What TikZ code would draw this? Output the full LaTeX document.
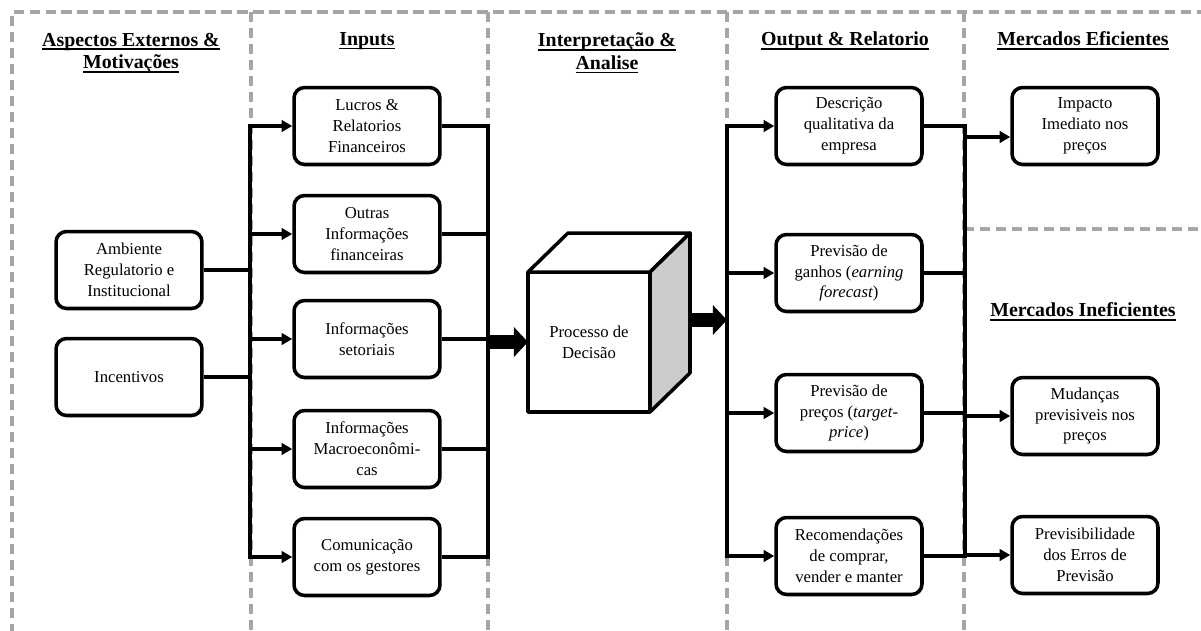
\documentclass[tikz,border=0pt]{standalone}
\usepackage{fontspec}
\setmainfont{Liberation Serif}
\usetikzlibrary{arrows.meta,shadows}

% underlined column heading with a fixed rule just below the baseline
\newcommand{\hdr}[1]{\setbox0\hbox{#1}\rlap{\rule[-2.3pt]{\wd0}{1pt}}\box0}

\begin{document}
\begin{tikzpicture}[x=0.02cm,y=-0.02cm,
  frame/.style={draw=black!35, line width=1.9pt, dash pattern=on 5.9pt off 3.2pt},
  box/.style={draw=black, line width=2pt, rounded corners=6pt, fill=white,
    align=center, minimum width=2.92cm, minimum height=1.54cm, inner sep=2pt,
    font=\fontsize{9.5}{11.9}\selectfont,
    drop shadow={opacity=0.18, shadow xshift=0.9pt, shadow yshift=-0.9pt}},
  hd/.style={align=center, inner sep=0pt, font=\fontsize{11.3}{13}\selectfont\bfseries},
  cubeface/.style={draw=black, line width=2pt, line join=round},
  wire/.style={line width=2pt, line join=miter},
  arr/.style={wire, -{Triangle[length=6pt,width=6.5pt]}},
  arrboth/.style={wire, {Triangle[length=6pt,width=6.5pt]}-{Triangle[length=6pt,width=6.5pt]}},
  fat/.style={line width=8pt, -{Triangle[length=8pt,width=16.5pt]}}
]
\useasboundingbox (0,0) rectangle (1201,630);

% dashed column frame
\draw[frame] (12,650) -- (12,12) -- (1215,12);
\foreach \x in {251,488,727,964} \draw[frame] (\x,12) -- (\x,650);
\draw[frame] (964,229) -- (1215,229);

% column headings
\node[hd] (h1) at (131,53) {\hdr{Aspectos Externos \&}\\\hdr{Motivações}};
\node[hd] (h2) at (367,41) {\hdr{Inputs}};
\node[hd] (h3) at (607,53) {\hdr{Interpretação \&}\\\hdr{Analise}};
\node[hd] (h4) at (845,41) {\hdr{Output \& Relatorio}};
\node[hd] (h5) at (1083,41) {\hdr{Mercados Eficientes}};
\node[hd] (h6) at (1083,312) {\hdr{Mercados Ineficientes}};

% external aspects
\node[box] (amb) at (129,270) {Ambiente\\Regulatorio e\\Institucional};
\node[box] (inc) at (129,377) {Incentivos};

% inputs
\node[box] (luc) at (367,126) {Lucros \&\\Relatorios\\Financeiros};
\node[box] (out) at (367,234) {Outras\\Informações\\financeiras};
\node[box] (set) at (367,339) {Informações\\setoriais};
\node[box] (mac) at (367,449) {Informações\\Macroeconômi-\\cas};
\node[box] (com) at (367,557) {Comunicação\\com os gestores};

% decision cube
\node[cubeface, fill=white, minimum width=2.44cm, minimum height=2.8cm, outer sep=0pt,
  align=center, font=\fontsize{9.5}{11.9}\selectfont] (dec) at (589,342) {Processo de\\Decisão};
\draw[cubeface, fill=white] (dec.north west) -- ++(40,-39) -- ++(122,0) -- (dec.north east) -- cycle;
\draw[cubeface, fill=black!20] (dec.north east) -- ++(40,-39) -- ++(0,140) -- (dec.south east) -- cycle;

% outputs
\node[box] (desc) at (849,126) {Descrição\\qualitativa da\\empresa};
\node[box] (gan) at (849,273) {Previsão de\\ganhos (\textit{earning}\\\textit{forecast})};
\node[box] (prec) at (849,413) {Previsão de\\preços (\textit{target-}\\\textit{price})};
\node[box] (rec) at (849,556) {Recomendações\\de comprar,\\vender e manter};

% markets
\node[box] (imp) at (1085,126) {Impacto\\Imediato nos\\preços};
\node[box] (mud) at (1085,416) {Mudanças\\previsiveis nos\\preços};
\node[box] (prv) at (1085,555) {Previsibilidade\\dos Erros de\\Previsão};

% bus columns
\coordinate (lbus) at (250,0);
\coordinate (ibus) at (488,0);
\coordinate (obus) at (727,0);
\coordinate (rbus) at (965,0);
\coordinate (cubeout) at (690,320);
\coordinate (impin) at ([yshift=-0.22cm]imp.west);

% external aspects feed the inputs
\draw[wire] (amb.east) -- (amb.east -| lbus);
\draw[wire] (inc.east) -- (inc.east -| lbus);
\draw[arrboth] (luc.west) -- (luc.west -| lbus) -- (com.west -| lbus) -- (com.west);
\draw[arr] (out.west -| lbus) -- (out.west);
\draw[arr] (set.west -| lbus) -- (set.west);
\draw[arr] (mac.west -| lbus) -- (mac.west);

% inputs gather into the decision process
\draw[wire] (luc.east) -- (luc.east -| ibus) -- (com.east -| ibus) -- (com.east);
\draw[wire] (out.east) -- (out.east -| ibus);
\draw[wire] (set.east) -- (set.east -| ibus);
\draw[wire] (mac.east) -- (mac.east -| ibus);
\draw[fat] (dec.west -| ibus) -- (dec.west);

% decision process to outputs
\draw[fat] (cubeout) -- (cubeout -| obus);
\draw[arrboth] (desc.west) -- (desc.west -| obus) -- (rec.west -| obus) -- (rec.west);
\draw[arr] (gan.west -| obus) -- (gan.west);
\draw[arr] (prec.west -| obus) -- (prec.west);

% outputs to markets
\draw[wire] (desc.east) -- (desc.east -| rbus) -- (rec.east -| rbus) -- (rec.east);
\draw[wire] (gan.east) -- (gan.east -| rbus);
\draw[wire] (prec.east) -- (prec.east -| rbus);
\draw[arr] (impin -| rbus) -- (impin);
\draw[arr] (mud.west -| rbus) -- (mud.west);
\draw[arr] (prv.west -| rbus) -- (prv.west);
\end{tikzpicture}
\end{document}
